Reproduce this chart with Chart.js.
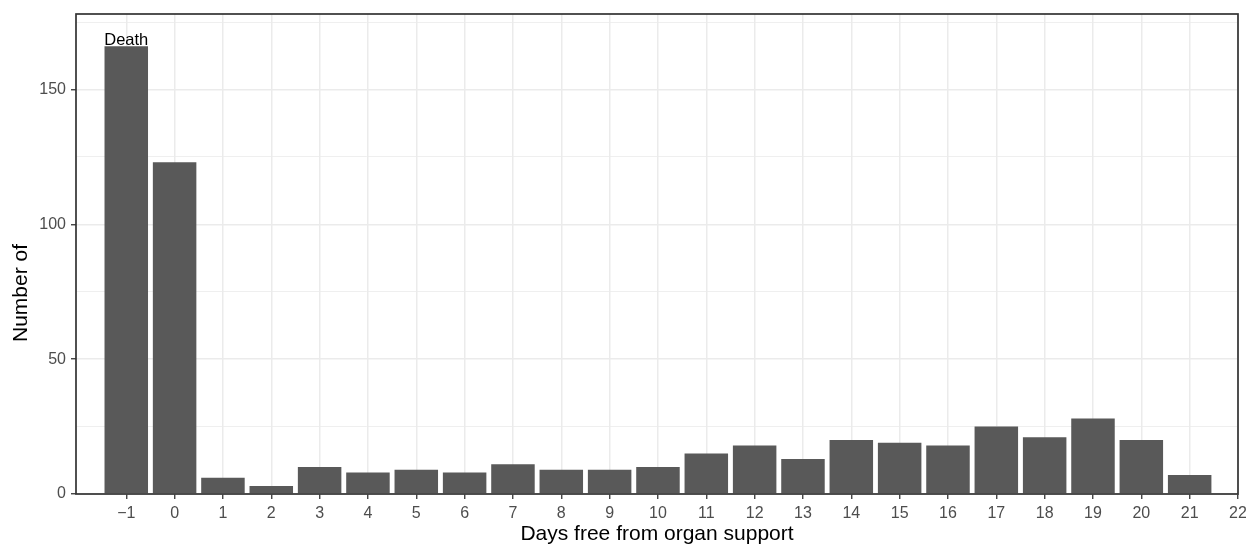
<!DOCTYPE html>
<html>
<head>
<meta charset="utf-8">
<script src="https://cdn.jsdelivr.net/npm/chart.js@4/dist/chart.umd.min.js"></script>
<style>
  html, body { margin: 0; padding: 0; background: #fff; }
  #wrap { width: 1246px; height: 544px; }
</style>
</head>
<body>
<div id="wrap"><canvas id="days_chart"></canvas></div>
<script>
// data
var days = [-1, 0, 1, 2, 3, 4, 5, 6, 7, 8, 9, 10, 11, 12, 13, 14, 15, 16, 17, 18, 19, 20, 21];
var counts = [166, 123, 6, 3, 10, 8, 9, 8, 11, 9, 9, 10, 15, 18, 13, 20, 19, 18, 25, 21, 28, 20, 7];
var xTicks = [-1, 0, 1, 2, 3, 4, 5, 6, 7, 8, 9, 10, 11, 12, 13, 14, 15, 16, 17, 18, 19, 20, 21, 22];
var yMajor = [0, 50, 100, 150];
var yMinor = [25, 75, 125, 175];
var deathLabel = "Death";

var fontFamily = "'Liberation Sans', Arial, Helvetica, sans-serif";

var points = days.map(function (d, i) {
    return {x: d, y: counts[i]};
});

// panel border, y title and "Death" label
var extras = {
    id: 'extras',
    afterDatasetsDraw: function (chart) {
        var ctx = chart.ctx;
        var a = chart.chartArea;
        ctx.save();
        ctx.strokeStyle = '#333333';
        ctx.lineWidth = 1.7;
        ctx.strokeRect(a.left, a.top, a.right - a.left, a.bottom - a.top);

        // label over the death bar
        var xs = chart.scales.x, ys = chart.scales.y;
        ctx.fillStyle = '#000';
        ctx.font = '16.5px ' + fontFamily;
        ctx.textAlign = 'center';
        ctx.textBaseline = 'alphabetic';
        ctx.fillText(deathLabel, xs.getPixelForValue(days[0]), ys.getPixelForValue(counts[0]) - 1.5);

        // y title
        ctx.translate(27, 293);
        ctx.rotate(-Math.PI / 2);
        ctx.font = '21px ' + fontFamily;
        ctx.fillText('Number of', 0, 0);
        ctx.restore();
    }
};

new Chart(document.getElementById('days_chart').getContext('2d'), {
    type: 'bar',
    data: {
        datasets: [{
            data: points,
            backgroundColor: '#595959',
            borderWidth: 0,
            barPercentage: 0.9,
            categoryPercentage: 1.0
        }]
    },
    options: {
        responsive: true,
        maintainAspectRatio: false,
        animation: false,
        layout: {padding: {left: 0, right: 8, top: 14, bottom: 0}},
        plugins: {legend: {display: false}, tooltip: {enabled: false}},
        scales: {
            x: {
                type: 'linear',
                min: -2.04,
                max: 22,
                offset: false,
                afterBuildTicks: function (axis) {
                    axis.ticks = xTicks.map(function (v) { return {value: v}; });
                },
                afterFit: function (axis) {
                    axis.height = 50;
                    axis.paddingLeft = 0;
                    axis.paddingRight = 0;
                },
                ticks: {
                    autoSkip: false,
                    maxRotation: 0,
                    padding: 5,
                    color: '#4D4D4D',
                    font: {family: fontFamily, size: 16},
                    callback: function (v) {
                        return v < 0 ? '\u2212' + Math.abs(v) : String(v);
                    }
                },
                grid: {
                    offset: false,
                    color: '#EBEBEB',
                    lineWidth: 1.5,
                    drawTicks: true,
                    tickLength: 5,
                    tickColor: '#333333',
                    tickWidth: 1.3
                },
                border: {display: false},
                title: {
                    display: true,
                    text: 'Days free from organ support',
                    color: '#000',
                    font: {family: fontFamily, size: 21},
                    padding: {top: 0, bottom: -3}
                }
            },
            y: {
                type: 'linear',
                min: 0,
                max: 178,
                afterBuildTicks: function (axis) {
                    axis.ticks = yMajor.concat(yMinor).sort(function (a, b) { return a - b; })
                        .map(function (v) { return {value: v}; });
                },
                afterFit: function (axis) {
                    axis.width = 76;
                    axis.paddingTop = 0;
                    axis.paddingBottom = 0;
                },
                ticks: {
                    autoSkip: false,
                    padding: 5,
                    color: '#4D4D4D',
                    font: {family: fontFamily, size: 16},
                    callback: function (v) {
                        return yMajor.indexOf(v) >= 0 ? String(v) : '';
                    }
                },
                grid: {
                    color: '#EBEBEB',
                    lineWidth: function (c) {
                        return c.tick && yMajor.indexOf(c.tick.value) >= 0 ? 1.5 : 0.8;
                    },
                    drawTicks: true,
                    tickLength: 5,
                    tickColor: function (c) {
                        return c.tick && yMajor.indexOf(c.tick.value) >= 0 ? '#333333' : 'rgba(0,0,0,0)';
                    },
                    tickWidth: 1.3
                },
                border: {display: false}
            }
        }
    },
    plugins: [extras]
});
</script>
</body>
</html>
